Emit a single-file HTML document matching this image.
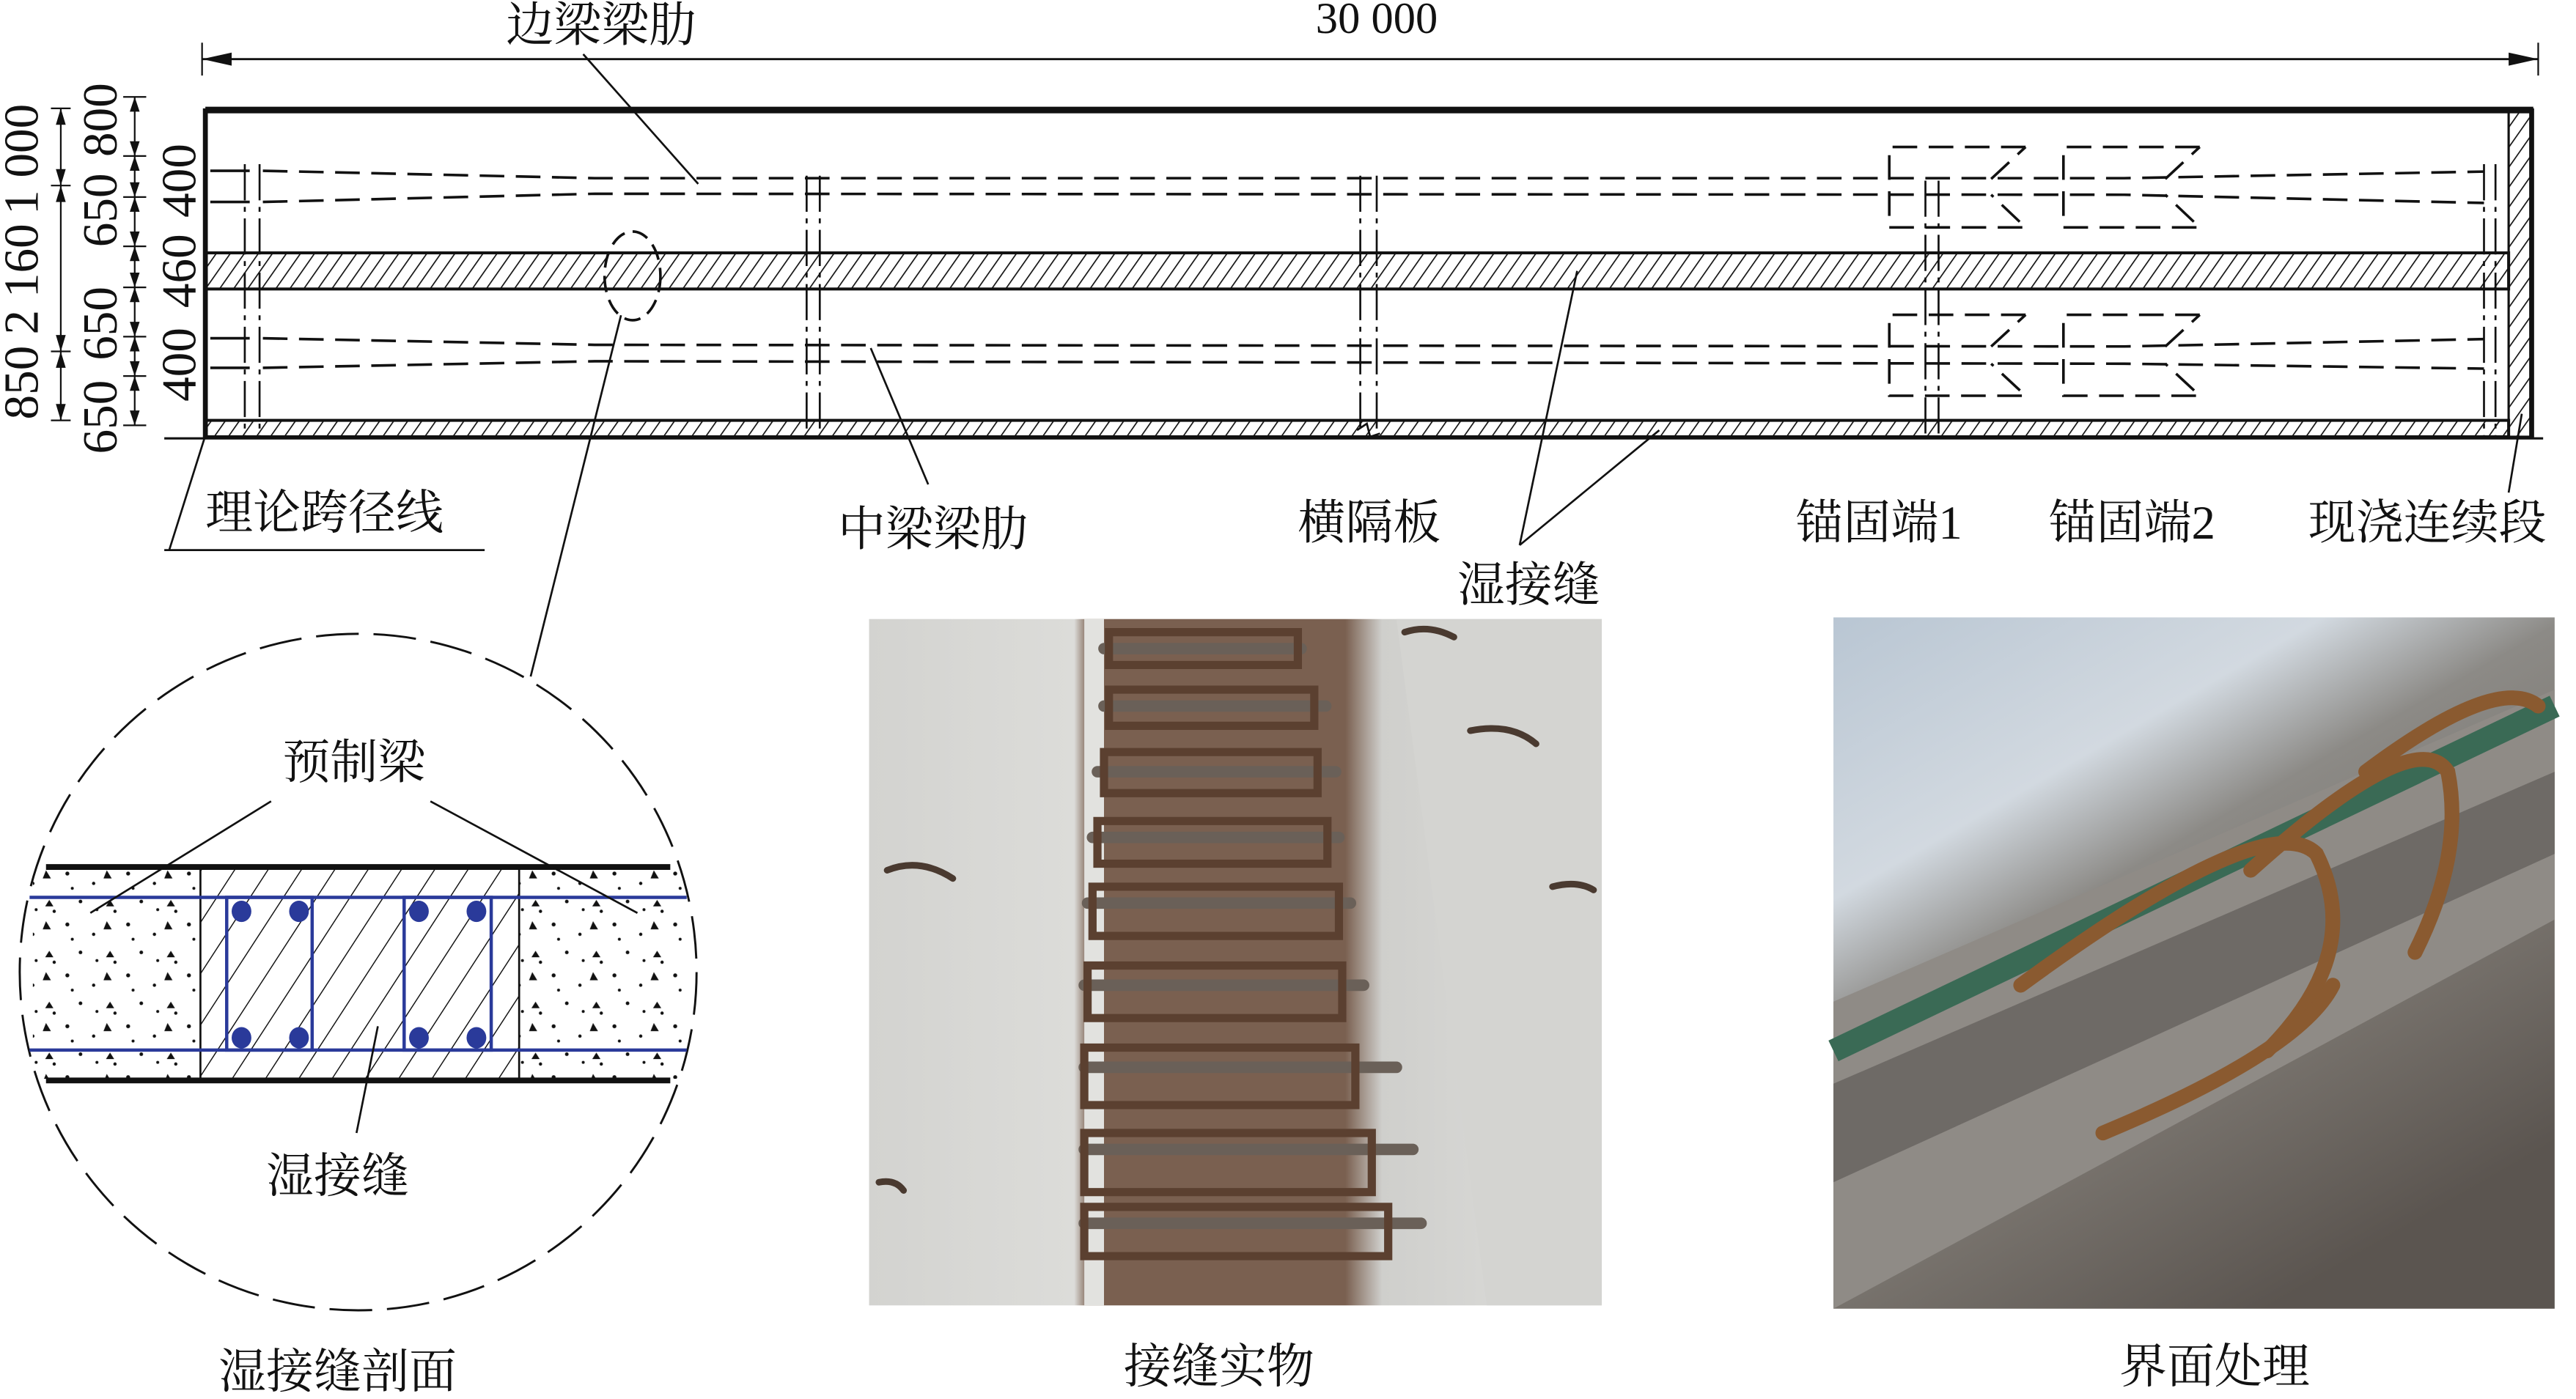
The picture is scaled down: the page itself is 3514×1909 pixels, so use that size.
<!DOCTYPE html>
<html><head><meta charset="utf-8"><style>
html,body{margin:0;padding:0;background:#fff;}
svg{display:block;}
text{font-family:"Liberation Serif","Noto Serif CJK SC","Noto Sans CJK SC",serif;fill:#111;}
</style></head><body>
<svg width="3514" height="1909" viewBox="0 0 1568 852" preserveAspectRatio="none" xmlns="http://www.w3.org/2000/svg">
<defs>
<pattern id="h" patternUnits="userSpaceOnUse" width="7" height="7" patternTransform="rotate(35)">
<line x1="0" y1="0" x2="0" y2="7" stroke="#111" stroke-width="1.5"/></pattern>
<pattern id="h2" patternUnits="userSpaceOnUse" width="17" height="17" patternTransform="rotate(33)">
<line x1="0" y1="0" x2="0" y2="17" stroke="#111" stroke-width="1.3"/></pattern>
<pattern id="dots" patternUnits="userSpaceOnUse" width="37" height="31">
<circle cx="4" cy="5" r="1.2" fill="#111"/><circle cx="20" cy="11" r="1" fill="#111"/>
<path d="M28 3 l3 5 h-5z" fill="#111"/><circle cx="12" cy="22" r="1.1" fill="#111"/>
<path d="M30 21 l2.5 4 h-5z" fill="#111"/><circle cx="7" cy="14" r="0.9" fill="#111"/>
<circle cx="33" cy="28" r="1" fill="#111"/><circle cx="22" cy="27" r="0.9" fill="#111"/>
</pattern>
<linearGradient id="p1" x1="0" x2="1" y1="0" y2="0">
<stop offset="0" stop-color="#d3d3d0"/><stop offset="0.28" stop-color="#dcdcd9"/>
<stop offset="0.3" stop-color="#7a6050"/><stop offset="0.65" stop-color="#7a6050"/>
<stop offset="0.7" stop-color="#cfcfcc"/><stop offset="1" stop-color="#dededc"/></linearGradient>
<linearGradient id="p2" x1="0" x2="0.6" y1="0" y2="1">
<stop offset="0" stop-color="#b9c6d3"/><stop offset="0.3" stop-color="#d2d9e0"/>
<stop offset="0.45" stop-color="#8c8a86"/><stop offset="0.7" stop-color="#7b7670"/><stop offset="1" stop-color="#5b5550"/></linearGradient>
</defs>

<!-- top dimension -->
<line x1="123" y1="36" x2="1545" y2="36" stroke="#111" stroke-width="1.3"/>
<path d="M123 36 l18 -4 v8z M1545 36 l-18 -4 v8z" fill="#111"/>
<line x1="123" y1="26" x2="123" y2="46" stroke="#111" stroke-width="1"/>
<line x1="1545" y1="26" x2="1545" y2="46" stroke="#111" stroke-width="1"/>
<text x="838" y="20" font-size="27" text-anchor="middle">30 000</text>
<text x="366" y="25" font-size="29" text-anchor="middle">边梁梁肋</text>
<line x1="355" y1="33" x2="425" y2="112" stroke="#111" stroke-width="1.2"/>

<!-- left dims -->
<g stroke="#111" stroke-width="1">
<line x1="37" y1="66" x2="37" y2="256"/>
<line x1="31" y1="66" x2="43" y2="66"/><line x1="31" y1="113" x2="43" y2="113"/>
<line x1="31" y1="214" x2="43" y2="214"/><line x1="31" y1="256" x2="43" y2="256"/>
<line x1="82" y1="59" x2="82" y2="259"/>
<line x1="75" y1="59" x2="89" y2="59"/><line x1="75" y1="95" x2="89" y2="95"/><line x1="75" y1="120" x2="89" y2="120"/>
<line x1="75" y1="150" x2="89" y2="150"/><line x1="75" y1="175" x2="89" y2="175"/><line x1="75" y1="205" x2="89" y2="205"/>
<line x1="75" y1="229" x2="89" y2="229"/><line x1="75" y1="259" x2="89" y2="259"/>
</g>
<g fill="#111">
<path d="M37 66l-3 10h6z M37 113l-3 -10h6z M37 113l-3 10h6z M37 214l-3 -10h6z M37 214l-3 10h6z M37 256l-3 -10h6z"/>
<path d="M82 59l-3 9h6z M82 95l-3 -9h6z M82 95l-3 9h6z M82 120l-3 -9h6z M82 120l-3 9h6z M82 150l-3 -9h6z M82 150l-3 9h6z M82 175l-3 -9h6z M82 175l-3 9h6z M82 205l-3 -9h6z M82 205l-3 9h6z M82 229l-3 -9h6z M82 229l-3 9h6z M82 259l-3 -9h6z"/>
</g>
<g font-size="30">
<text transform="translate(23,97) rotate(-90)" text-anchor="middle">1 000</text>
<text transform="translate(23,170) rotate(-90)" text-anchor="middle">2 160</text>
<text transform="translate(23,233) rotate(-90)" text-anchor="middle">850</text>
<text transform="translate(71,73) rotate(-90)" text-anchor="middle">800</text>
<text transform="translate(71,128) rotate(-90)" text-anchor="middle">650</text>
<text transform="translate(71,197) rotate(-90)" text-anchor="middle">650</text>
<text transform="translate(71,254) rotate(-90)" text-anchor="middle">650</text>
<text transform="translate(119,110) rotate(-90)" text-anchor="middle">400</text>
<text transform="translate(119,165) rotate(-90)" text-anchor="middle">460</text>
<text transform="translate(119,222) rotate(-90)" text-anchor="middle">400</text>
</g>

<!-- main plan -->
<rect x="125" y="154" width="1402" height="22" fill="url(#h)" stroke="#111" stroke-width="1.8"/>
<rect x="125" y="256" width="1402" height="10" fill="url(#h)" stroke="#111" stroke-width="1.8"/>
<rect x="1527" y="67" width="14" height="199" fill="url(#h)" stroke="#111" stroke-width="1.4"/>
<line x1="125" y1="67" x2="1542" y2="67" stroke="#111" stroke-width="4"/>
<line x1="125" y1="66" x2="125" y2="267" stroke="#111" stroke-width="3"/>
<line x1="1541" y1="66" x2="1541" y2="267" stroke="#111" stroke-width="3"/>
<line x1="100" y1="267" x2="1548" y2="267" stroke="#111" stroke-width="1.4"/>

<g stroke="#111" stroke-width="1.2" stroke-dasharray="22 4 3 4" fill="none">
<path d="M149 100V266 M158 100V266 M491 107V266 M499 107V266 M828 107V262 M838 107V262 M1172 110V266 M1180 110V266 M1512 100V266 M1519 100V266"/>
</g>
<path d="M826 262 l6 -4 l2 8 l6 -2" stroke="#111" stroke-width="1.2" fill="none"/>

<g stroke="#111" stroke-width="1.6" fill="none">
<path d="M128 104H152 M128 123H152 M128 206H152 M128 224H152"/>
<path stroke-dasharray="15 7" d="M160 104 L362 108.5 L1293 108.5 L1512 104.5 M160 123 L362 118 L1293 118.6 L1512 123.6 M160 206 L362 210 L1293 211 L1512 206.5 M160 224 L362 220 L1293 221.5 L1512 224.5"/>
<path stroke-dasharray="15 7" d="M1233 89.5H1150V138.5H1233L1212 118.6 M1212 109L1233 89.5 M1339 89.5H1256V138.5H1339L1318 118.6 M1318 109L1339 89.5 M1233 191.7H1150V241H1233L1212 221.5 M1212 211L1233 191.7 M1339 191.7H1256V241H1339L1318 221.5 M1318 211L1339 191.7"/>
<ellipse cx="385" cy="168" rx="17" ry="27" stroke-dasharray="10 5"/>
</g>

<g font-size="29">
<text x="125" y="322">理论跨径线</text>
<text x="510" y="332">中梁梁肋</text>
<text x="790" y="328">横隔板</text>
<text x="887" y="366">湿接缝</text>
<text x="1093" y="328">锚固端1</text>
<text x="1247" y="328">锚固端2</text>
<text x="1405" y="328">现浇连续段</text>
</g>
<g stroke="#111" stroke-width="1.2" fill="none">
<path d="M100 335H295 M126 262L103 335"/>
<path d="M530 212L565 295"/>
<path d="M925 332L960 165 M925 332L1010 262"/>
<path d="M1535 252L1527 300"/>
<path d="M378 192L323 412"/>
</g>

<!-- circle detail -->
<circle cx="218" cy="592" r="206" fill="none" stroke="#111" stroke-width="1.3" stroke-dasharray="26 9"/>
<rect x="20" y="529" width="102" height="128" fill="url(#dots)"/>
<rect x="316" y="529" width="100" height="128" fill="url(#dots)"/>
<rect x="122" y="529" width="194" height="128" fill="url(#h2)" stroke="#111" stroke-width="1.2"/>
<line x1="28" y1="528" x2="408" y2="528" stroke="#111" stroke-width="3.5"/>
<line x1="28" y1="658" x2="408" y2="658" stroke="#111" stroke-width="3.5"/>
<g stroke="#2a3a9a" stroke-width="2" fill="none">
<line x1="18" y1="546.5" x2="418" y2="546.5"/><line x1="18" y1="639.5" x2="418" y2="639.5"/>
<rect x="138" y="546.5" width="52" height="93"/><rect x="246" y="546.5" width="53" height="93"/>
</g>
<g fill="#2a3a9a">
<ellipse cx="147" cy="555" rx="6" ry="6.5"/><ellipse cx="182" cy="555" rx="6" ry="6.5"/>
<ellipse cx="255" cy="555" rx="6" ry="6.5"/><ellipse cx="290" cy="555" rx="6" ry="6.5"/>
<ellipse cx="147" cy="632" rx="6" ry="6.5"/><ellipse cx="182" cy="632" rx="6" ry="6.5"/>
<ellipse cx="255" cy="632" rx="6" ry="6.5"/><ellipse cx="290" cy="632" rx="6" ry="6.5"/>
</g>
<g stroke="#111" stroke-width="1.2" fill="none">
<path d="M165 488L55 556 M262 488L388 556 M217 690L230 625"/>
</g>
<g font-size="29">
<text x="172" y="474">预制梁</text>
<text x="162" y="726">湿接缝</text>
<text x="133" y="845">湿接缝剖面</text>
<text x="684" y="842">接缝实物</text>
<text x="1290" y="842">界面处理</text>
</g>

<!-- photo 1 -->
<rect x="529" y="377" width="446" height="418" fill="url(#p1)"/>
<rect x="660" y="377" width="12" height="418" fill="#e2e2df"/>
<g stroke="#6a6058" stroke-width="7" fill="none" stroke-linecap="round">
<path d="M672 395h120 M672 430h135 M668 470h145 M665 510h150 M662 550h160 M660 600h170 M660 650h190 M660 700h200 M660 745h205"/>
</g>
<g stroke="#5b4030" stroke-width="5" fill="none">
<path d="M675 385h115v20h-115z M675 420h125v22h-125z M672 458h130v25h-130z M668 500h140v26h-140z M665 540h150v30h-150z M662 588h155v32h-155z M660 638h165v35h-165z M660 690h175v36h-175z M660 735h185v30h-185z"/>
</g>
<path d="M850 377 L975 377 L975 795 L905 795 Z" fill="#d4d4d1"/>
<g stroke="#4a3a30" stroke-width="4" fill="none" stroke-linecap="round">
<path d="M855 385q15 -5 30 3 M540 530q20 -8 40 5 M895 445q25 -5 40 8 M945 540q15 -4 25 2 M535 720q10 -2 15 5"/>
</g>
<!-- photo 2 -->
<rect x="1116" y="376" width="439" height="421" fill="url(#p2)"/>
<path d="M1116 610 L1555 420 L1555 560 L1116 797 Z" fill="#8f8b86"/>
<path d="M1116 660 L1555 470 L1555 520 L1116 720 Z" fill="#6e6a66"/>
<path d="M1116 640 L1555 430" stroke="#3a6a55" stroke-width="14"/>
<g stroke="#8a5a30" stroke-width="9" fill="none" stroke-linecap="round">
<path d="M1230 600 Q1380 490 1410 520 Q1440 580 1380 640 M1370 530 Q1470 440 1490 470 Q1500 520 1470 580 M1440 470 Q1520 410 1545 430"/>
<path d="M1280 690 Q1400 640 1420 600"/>
</g>
</svg>
</body></html>
